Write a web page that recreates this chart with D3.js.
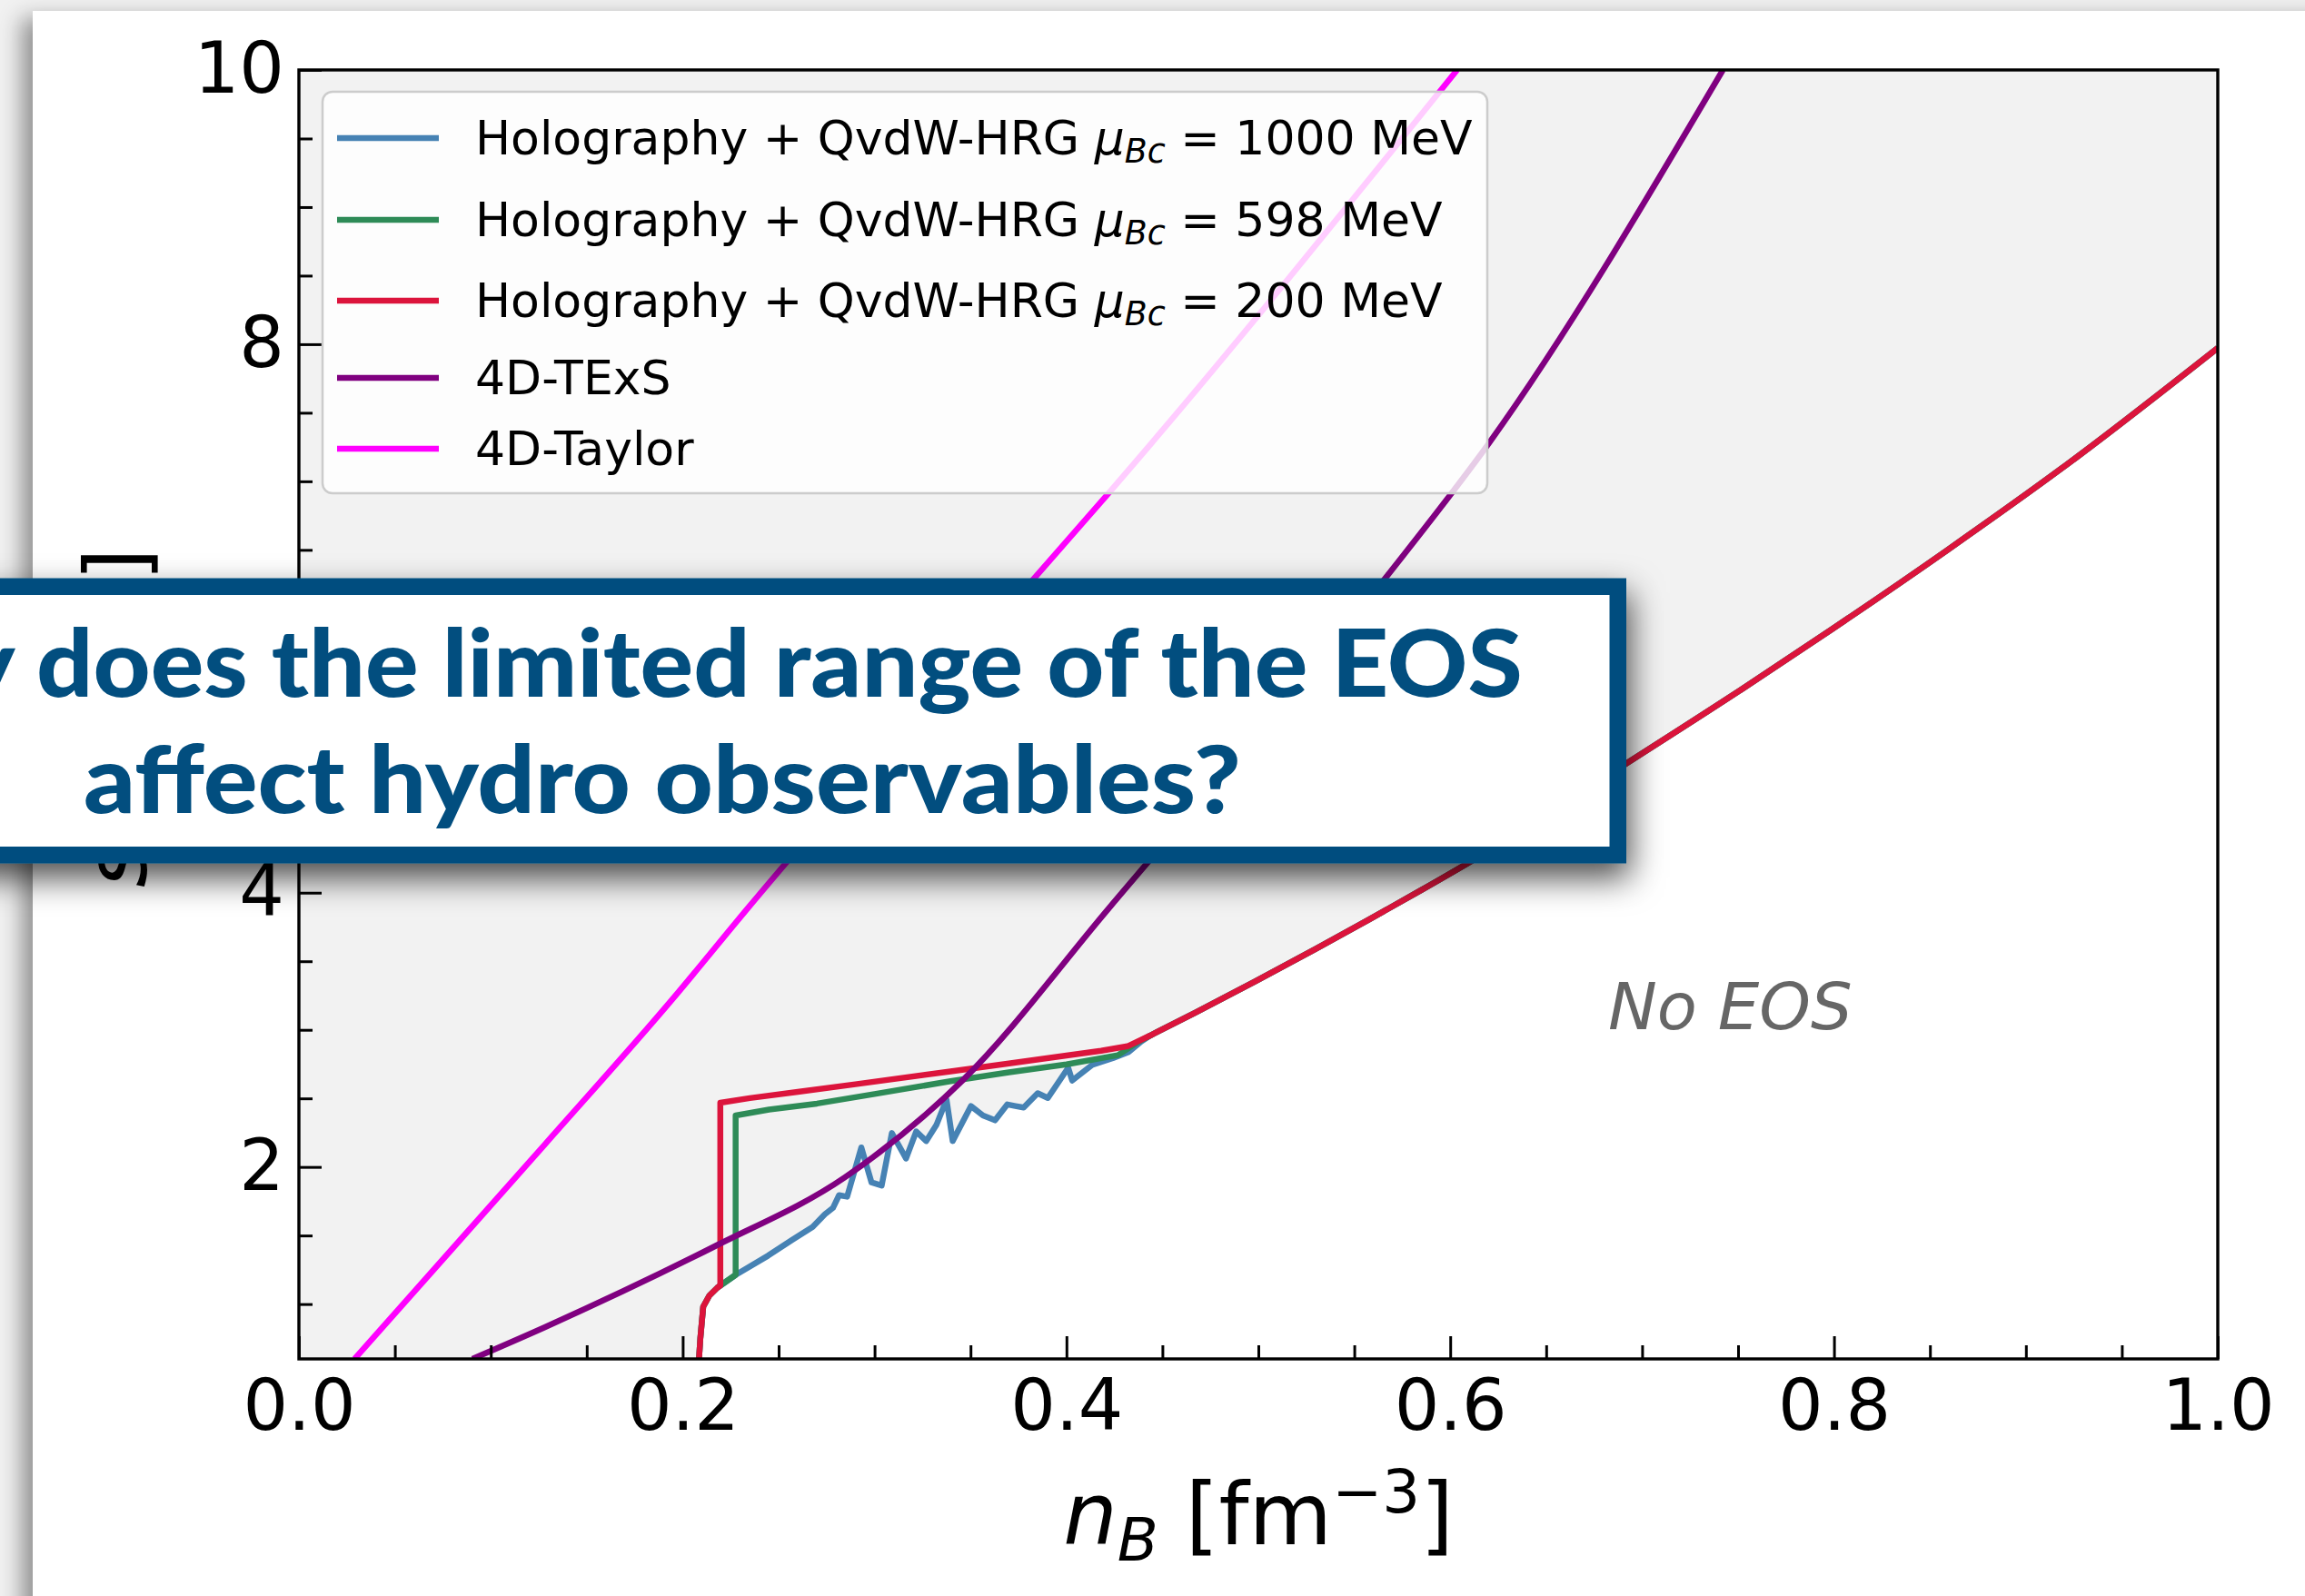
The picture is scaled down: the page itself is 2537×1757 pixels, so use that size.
<!DOCTYPE html>
<html>
<head>
<meta charset="utf-8">
<script src="https://cdn.jsdelivr.net/npm/d3@7"></script>
<style>
  html, body { margin: 0; padding: 0; background: #f1f1f1; overflow: hidden; }
  svg { display: block; }
</style>
</head>
<body>
<svg id="chart" width="2537" height="1757"></svg>
<script>
// ---------------- data ----------------
const xTicks = [0.0, 0.2, 0.4, 0.6, 0.8, 1.0];
const yTicks = [2, 4, 6, 8, 10];
const xDomain = [0, 1];
const yDomain = [0.6, 10];

// 4D-Taylor coverage boundary (n_B, s)
const taylor = [[0.029,0.6],[0.1283,2.166],[0.1946,3.222],[0.2338,3.885],[0.3983,6.534],[0.4218,6.911],[0.6036,10.0]];

// 4D-TExS coverage boundary
const texs = [[0.0904,0.6],[0.1283,0.832],[0.2170,1.423],[0.2845,1.924],[0.3460,2.633],[0.4220,3.885],[0.5671,6.31],[0.6201,7.277],[0.7421,10.0]];

// Holography + QvdW-HRG: shared low-density start
const hbStart = [[0.2085,0.6],[0.2092,0.75],[0.2107,0.981],[0.2139,1.062],[0.2181,1.12]];

// shared high-density branch (all three critical points coincide here)
const hbTail = [[0.4436,2.958],[0.4671,3.125],[0.4986,3.355],[0.5299,3.590],[0.5574,3.802],[0.5849,4.019],
                [0.6084,4.209],[0.6916,4.941],[0.7516,5.481],[0.7989,5.921],[0.8589,6.497],[0.9189,7.097],[1.0,7.973]];

// mu_Bc = 1000 MeV
const hb1000 = [[0.2276,1.213],[0.2445,1.353],[0.2572,1.469],[0.2677,1.562],[0.2741,1.655],[0.2783,1.701],
                [0.2815,1.794],[0.2857,1.783],[0.2931,2.142],[0.2984,1.887],[0.3037,1.864],[0.3090,2.247],
                [0.3164,2.062],[0.3217,2.259],[0.3269,2.189],[0.3322,2.305],[0.3375,2.491],[0.3407,2.189],
                [0.3502,2.444],[0.3565,2.375],[0.3628,2.340],[0.3692,2.456],[0.3734,2.444],[0.3777,2.433],
                [0.3850,2.538],[0.3903,2.503],[0.4009,2.723],[0.4030,2.630],[0.4136,2.746],[0.4241,2.793],
                [0.4326,2.840],[0.4390,2.915]];

// mu_Bc = 598 MeV
const hb598 = [[0.2276,1.213],[0.2276,2.375],[0.2450,2.418],[0.2700,2.462],[0.3000,2.532],[0.3396,2.625],
               [0.3700,2.690],[0.4000,2.748],[0.4268,2.815],[0.4377,2.915]];

// mu_Bc = 200 MeV
const hb200 = [[0.2196,1.135],[0.2196,2.468],[0.2350,2.502],[0.2600,2.548],[0.2900,2.603],[0.3396,2.697],
               [0.3700,2.755],[0.4000,2.812],[0.4181,2.847],[0.4318,2.880]];

const muBc = [1000, 598, 200];
const hbName = "Holography + QvdW-HRG";
const otherNames = ["4D-TExS", "4D-Taylor"];

// ---------------- style / layout ----------------
const colors = { hb1000: "steelblue", hb598: "seagreen", hb200: "crimson", texs: "purple", taylor: "magenta" };
const A = { left: 329, right: 2441, top: 77, bottom: 1496 };
const lineW = 6.5;
const tickFont = 78, labelFont = 94, legendFont = 52;
const legendRowY = [152, 242, 331, 416, 494];
const titleColor = "#024e7f";

const svg = d3.select("#chart");
const defs = svg.append("defs");

defs.append("filter").attr("id", "pageShadow")
  .attr("x", "-5%").attr("y", "-5%").attr("width", "110%").attr("height", "110%")
  .append("feDropShadow")
  .attr("dx", -12).attr("dy", 8).attr("stdDeviation", 12)
  .attr("flood-color", "#000").attr("flood-opacity", 0.4);

defs.append("filter").attr("id", "boxShadow")
  .attr("x", "-10%").attr("y", "-40%").attr("width", "125%").attr("height", "180%")
  .append("feDropShadow")
  .attr("dx", 4).attr("dy", 16).attr("stdDeviation", 18)
  .attr("flood-color", "#000").attr("flood-opacity", 0.7);

defs.append("clipPath").attr("id", "axesClip")
  .append("rect").attr("x", A.left).attr("y", A.top)
  .attr("width", A.right - A.left).attr("height", A.bottom - A.top);

// white sheet carrying the figure
svg.append("rect").attr("x", 36).attr("y", 12).attr("width", 2560).attr("height", 1800)
  .attr("fill", "#fff").attr("filter", "url(#pageShadow)");

const x = d3.scaleLinear().domain(xDomain).range([A.left, A.right]);
const y = d3.scaleLinear().domain(yDomain).range([A.bottom, A.top]);

const plot = svg.append("g").attr("clip-path", "url(#axesClip)");

const rawLine = d3.line().x(d => x(d[0])).y(d => y(d[1]));
const smoothLine = d3.line().x(d => x(d[0])).y(d => y(d[1])).curve(d3.curveMonotoneX);

// sampled low-density part drawn point to point, smooth high-density branch
function hbPath(own) {
  const head = hbStart.concat(own, [hbTail[0]]);
  return rawLine(head) + smoothLine(hbTail).replace(/^M/, "L");
}

// region covered by the holographic EOS: everything above its lowest branch
const lowest = hbPath(hb1000);
plot.append("path")
  .attr("fill", "#f2f2f2")
  .attr("d", `M${x(xDomain[0])},${y(yDomain[0])}L` + lowest.slice(1) +
             `L${x(xDomain[1])},${y(yDomain[1])}L${x(xDomain[0])},${y(yDomain[1])}Z`);

const series = [
  { d: hbPath(hb1000), color: colors.hb1000 },
  { d: hbPath(hb598), color: colors.hb598 },
  { d: hbPath(hb200), color: colors.hb200 },
  { d: smoothLine(texs), color: colors.texs },
  { d: smoothLine(taylor), color: colors.taylor }
];
series.forEach(s => {
  plot.append("path")
    .attr("fill", "none").attr("stroke", s.color).attr("stroke-width", lineW)
    .attr("stroke-linejoin", "round").attr("d", s.d);
});

// "No EOS" annotation
svg.append("text").attr("x", 1770).attr("y", 1133)
  .attr("font-family", "DejaVu Sans").attr("font-style", "italic")
  .attr("font-size", 72).attr("fill", "#666").text("No EOS");

// ---------------- axes ----------------
const xMinor = d3.range(0.05, 1.0, 0.05).filter(v => Math.abs(v / 0.2 - Math.round(v / 0.2)) > 1e-6);
const yMinor = d3.range(1, 10.01, 0.5).filter(v => Math.abs(v / 2 - Math.round(v / 2)) > 1e-6);

function styleAxis(g) {
  g.select(".domain").remove();
  g.selectAll(".tick line").attr("stroke", "#000").attr("stroke-width", 3);
  g.selectAll(".tick text").attr("font-family", "DejaVu Sans").attr("font-size", tickFont).attr("fill", "#000");
}

svg.append("g").attr("transform", `translate(0,${A.bottom})`)
  .call(d3.axisBottom(x).tickValues(xTicks).tickFormat(d3.format(".1f")).tickSizeInner(-25).tickSizeOuter(0).tickPadding(23))
  .call(styleAxis);
svg.append("g").attr("transform", `translate(0,${A.bottom})`)
  .call(d3.axisBottom(x).tickValues(xMinor).tickFormat("").tickSizeInner(-15).tickSizeOuter(0))
  .call(styleAxis);
svg.append("g").attr("transform", `translate(${A.left},0)`)
  .call(d3.axisLeft(y).tickValues(yTicks).tickFormat(d3.format("d")).tickSizeInner(-25).tickSizeOuter(0).tickPadding(16))
  .call(styleAxis);
svg.append("g").attr("transform", `translate(${A.left},0)`)
  .call(d3.axisLeft(y).tickValues(yMinor).tickFormat("").tickSizeInner(-15).tickSizeOuter(0))
  .call(styleAxis);

// spines
svg.append("rect").attr("x", A.left).attr("y", A.top)
  .attr("width", A.right - A.left).attr("height", A.bottom - A.top)
  .attr("fill", "none").attr("stroke", "#000").attr("stroke-width", 3.4);

// axis labels
const xl = svg.append("text").attr("x", (A.left + A.right) / 2).attr("y", 1700)
  .attr("text-anchor", "middle").attr("font-family", "DejaVu Sans").attr("font-size", labelFont).attr("fill", "#000");
xl.append("tspan").attr("font-style", "italic").text("n");
xl.append("tspan").attr("font-style", "italic").attr("font-size", labelFont * 0.7).attr("dy", 18).text("B");
xl.append("tspan").attr("dy", -18).text(" [fm");
xl.append("tspan").attr("font-size", labelFont * 0.7).attr("dy", -35).text("\u22123");
xl.append("tspan").attr("dy", 35).text("]");

const yl = svg.append("text").attr("transform", "translate(161,790) rotate(-90)")
  .attr("text-anchor", "middle").attr("font-family", "DejaVu Sans").attr("font-size", labelFont).attr("fill", "#000");
yl.append("tspan").attr("font-style", "italic").text("s");
yl.append("tspan").text(" [fm");
yl.append("tspan").attr("font-size", labelFont * 0.7).attr("dy", -35).text("\u22123");
yl.append("tspan").attr("dy", 35).text("]");

// ---------------- legend ----------------
const leg = svg.append("g");
leg.append("rect").attr("x", 355).attr("y", 101).attr("width", 1282).attr("height", 442).attr("rx", 11)
  .attr("fill", "#fff").attr("fill-opacity", 0.8).attr("stroke", "#cccccc").attr("stroke-width", 2.5);

const legendColors = [colors.hb1000, colors.hb598, colors.hb200, colors.texs, colors.taylor];
legendColors.forEach((c, i) => {
  const ry = legendRowY[i];
  leg.append("line").attr("x1", 371).attr("x2", 483).attr("y1", ry).attr("y2", ry)
    .attr("stroke", c).attr("stroke-width", lineW);
  const t = leg.append("text").attr("x", 523).attr("y", ry + 18)
    .attr("font-family", "DejaVu Sans").attr("font-size", legendFont).attr("fill", "#000");
  if (i < 3) {
    t.append("tspan").text(hbName + " ");
    t.append("tspan").attr("font-style", "italic").text("\u03bc");
    t.append("tspan").attr("font-style", "italic").attr("font-size", legendFont * 0.7).attr("dy", 9).text("Bc");
    t.append("tspan").attr("dy", -9).text(" = " + muBc[i] + " MeV");
  } else {
    t.text(otherNames[i - 3]);
  }
});

// ---------------- question box ----------------
const box = svg.append("g");
box.append("rect").attr("x", -420).attr("y", 645.75).attr("width", 2200.75).attr("height", 295.5)
  .attr("fill", "#fff").attr("stroke", titleColor).attr("stroke-width", 18.5)
  .attr("filter", "url(#boxShadow)");

const titleFont = "'Lato', 'Open Sans', 'DejaVu Sans', sans-serif";
const line1 = box.append("text").attr("font-family", titleFont).attr("font-weight", 900)
  .attr("font-size", 102).attr("fill", titleColor)
  .text("Why does the limited range of the EOS");
const line2 = box.append("text").attr("font-family", titleFont).attr("font-weight", 900)
  .attr("font-size", 102).attr("fill", titleColor)
  .text("affect hydro observables?");

// fit each line to its horizontal extent
(function fitTitle() {
  const n1 = line1.node();
  const full = n1.getComputedTextLength();
  const prefix = n1.getSubStringLength(0, 4);
  const s1 = (1676 - 40) / (full - prefix);
  line1.attr("transform", `translate(${40 - prefix * s1},767) scale(${s1},1)`);
  const w2 = line2.node().getComputedTextLength();
  const s2 = (1366 - 92) / w2;
  line2.attr("transform", `translate(92,895) scale(${s2},1)`);
})();
</script>
</body>
</html>
